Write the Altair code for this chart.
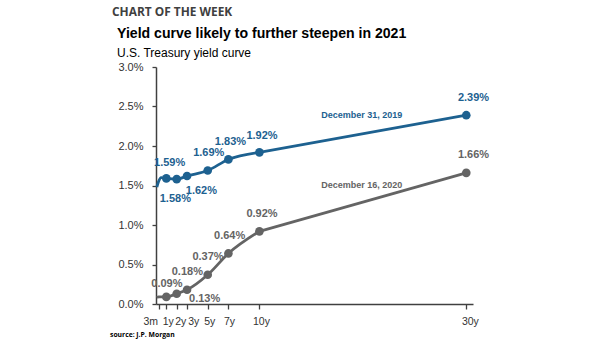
import altair as alt
import pandas as pd

# maturities in years
mat_years = [1/12, 0.25, 0.5, 1, 2, 3, 5, 7, 10, 30]
marked = [False, False, False, True, True, True, True, True, True, True]
y2019 = [1.48, 1.55, 1.60, 1.59, 1.58, 1.62, 1.69, 1.83, 1.92, 2.39]
y2020 = [0.08, 0.09, 0.09, 0.09, 0.13, 0.18, 0.37, 0.64, 0.92, 1.66]

tick_vals = [0.25, 1, 2, 3, 5, 7, 10, 30]
tick_labels = ["3m", "1y", "2y", "3y", "5y", "7y", "10y", "30y"]
# where each tick label is centred (years), spread out to avoid overlap
tick_label_pos = [-0.5, 1.19, 2.4, 3.65, 5.2, 7.1, 10.2, 30.4]

y_ticks = [0, 0.5, 1, 1.5, 2, 2.5, 3]

# value labels: text, anchor (years, percent)
lab2019_text = ["1.59%", "1.58%", "1.62%", "1.69%", "1.83%", "1.92%", "2.39%"]
lab2019_x = [1.32, 1.87, 4.39, 5.1, 7.2, 10.25, 30.7]
lab2019_y = [1.79, 1.33, 1.43, 1.91, 2.05, 2.13, 2.61]
lab2020_text = ["0.09%", "0.13%", "0.18%", "0.37%", "0.64%", "0.92%", "1.66%"]
lab2020_x = [1.05, 4.7, 3.03, 5.03, 7.12, 10.25, 30.7]
lab2020_y = [0.254, 0.064, 0.401, 0.59, 0.865, 1.133, 1.88]

series_names = ["December 31, 2019", "December 16, 2020"]
series_label_x = [19.9, 19.9]
series_label_y = [2.39, 1.51]

BLUE = "#1d6190"
GRAY = "#646464"
AXC = "#404040"

rows = []
for i, m in enumerate(mat_years):
    rows.append({"mat": m, "val": y2019[i], "series": "2019", "marked": marked[i]})
    rows.append({"mat": m, "val": y2020[i], "series": "2020", "marked": marked[i]})
df = pd.DataFrame(rows)

lab = pd.DataFrame(
    [{"mat": x, "val": y, "t": t, "series": "2019"} for t, x, y in zip(lab2019_text, lab2019_x, lab2019_y)]
    + [{"mat": x, "val": y, "t": t, "series": "2020"} for t, x, y in zip(lab2020_text, lab2020_x, lab2020_y)]
)
slab = pd.DataFrame({"t": series_names, "mat": series_label_x, "val": series_label_y, "series": ["2019", "2020"]})
xlab = pd.DataFrame({"t": tick_labels, "mat": tick_label_pos})

xs = alt.Scale(domain=[0, 30.65], nice=False, zero=False)
ys = alt.Scale(domain=[0, 3], nice=False)
cs = alt.Scale(domain=["2019", "2020"], range=[BLUE, GRAY])

X = alt.X("mat:Q", scale=xs,
          axis=alt.Axis(values=tick_vals, labels=False, title=None, grid=False,
                        domainColor=AXC, domainWidth=1.5, tickColor=AXC,
                        tickWidth=1.3, tickSize=5))
Y = alt.Y("val:Q", scale=ys,
          axis=alt.Axis(values=y_ticks, labelExpr="format(datum.value, '.1f') + '%'",
                        title=None, grid=False, domainColor=AXC, domainWidth=1.5,
                        tickColor=AXC, tickWidth=1.3, tickSize=4, labelFont="Liberation Sans",
                        labelFontSize=11, labelColor="#333333", labelPadding=9,
                        labelOverlap=False, labelFlush=False))
C = alt.Color("series:N", scale=cs, legend=None)

base = alt.Chart(df)
lines_short = base.transform_filter("datum.mat <= 10").mark_line(
    strokeWidth=2.8, interpolate="monotone").encode(x=X, y=Y, color=C, detail="series:N")
lines_long = base.transform_filter("datum.mat >= 10").mark_line(
    strokeWidth=2.8).encode(x=X, y=Y, color=C, detail="series:N")
points = base.transform_filter("datum.marked").mark_circle(size=75, opacity=1).encode(x=X, y=Y, color=C)
vlabels = alt.Chart(lab).mark_text(font="Liberation Sans", fontSize=11, fontWeight="bold").encode(
    x=X, y=Y, text="t:N", color=C)
slabels = alt.Chart(slab).mark_text(font="Liberation Sans", fontSize=9, fontWeight="bold").encode(
    x=X, y=Y, text="t:N", color=C)
xlabels = alt.Chart(xlab).mark_text(font="Liberation Sans", fontSize=10.5, color="#333333",
                                    baseline="middle").encode(x=X, y=alt.value(255), text="t:N")

head = pd.DataFrame({"k": [0]})
cotw = alt.Chart(head).mark_text(text="CHART OF THE WEEK", font="Open Sans", fontSize=11.9,
                                 fontWeight="bold", align="left", baseline="middle",
                                 color=AXC).encode(x=alt.value(-44), y=alt.value(-55))
title = alt.Chart(head).mark_text(text="Yield curve likely to further steepen in 2021", font="Liberation Sans",
                                  fontSize=14.1, fontWeight="bold", align="left", baseline="middle",
                                  color="#000000").encode(x=alt.value(-39), y=alt.value(-33))
sub = alt.Chart(head).mark_text(text="U.S. Treasury yield curve", font="Liberation Sans",
                                fontSize=12, align="left", baseline="middle",
                                color="#000000").encode(x=alt.value(-39), y=alt.value(-14))
src = alt.Chart(head).mark_text(text="source: J.P. Morgan", font="Open Sans", fontSize=6.8,
                                fontWeight="bold", align="left", baseline="middle",
                                color="#000000").encode(x=alt.value(-46), y=alt.value(268))

chart = alt.layer(lines_short, lines_long, points, vlabels, slabels, xlabels,
                  cotw, title, sub, src).properties(
    width=317, height=237,
    padding={"left": 156, "top": 67, "right": 132, "bottom": 37},
    autosize=alt.AutoSizeParams(type="none"),
    background="white",
).configure_view(stroke=None)

chart.save("out.html", embed_options={"renderer": "svg", "actions": False})
